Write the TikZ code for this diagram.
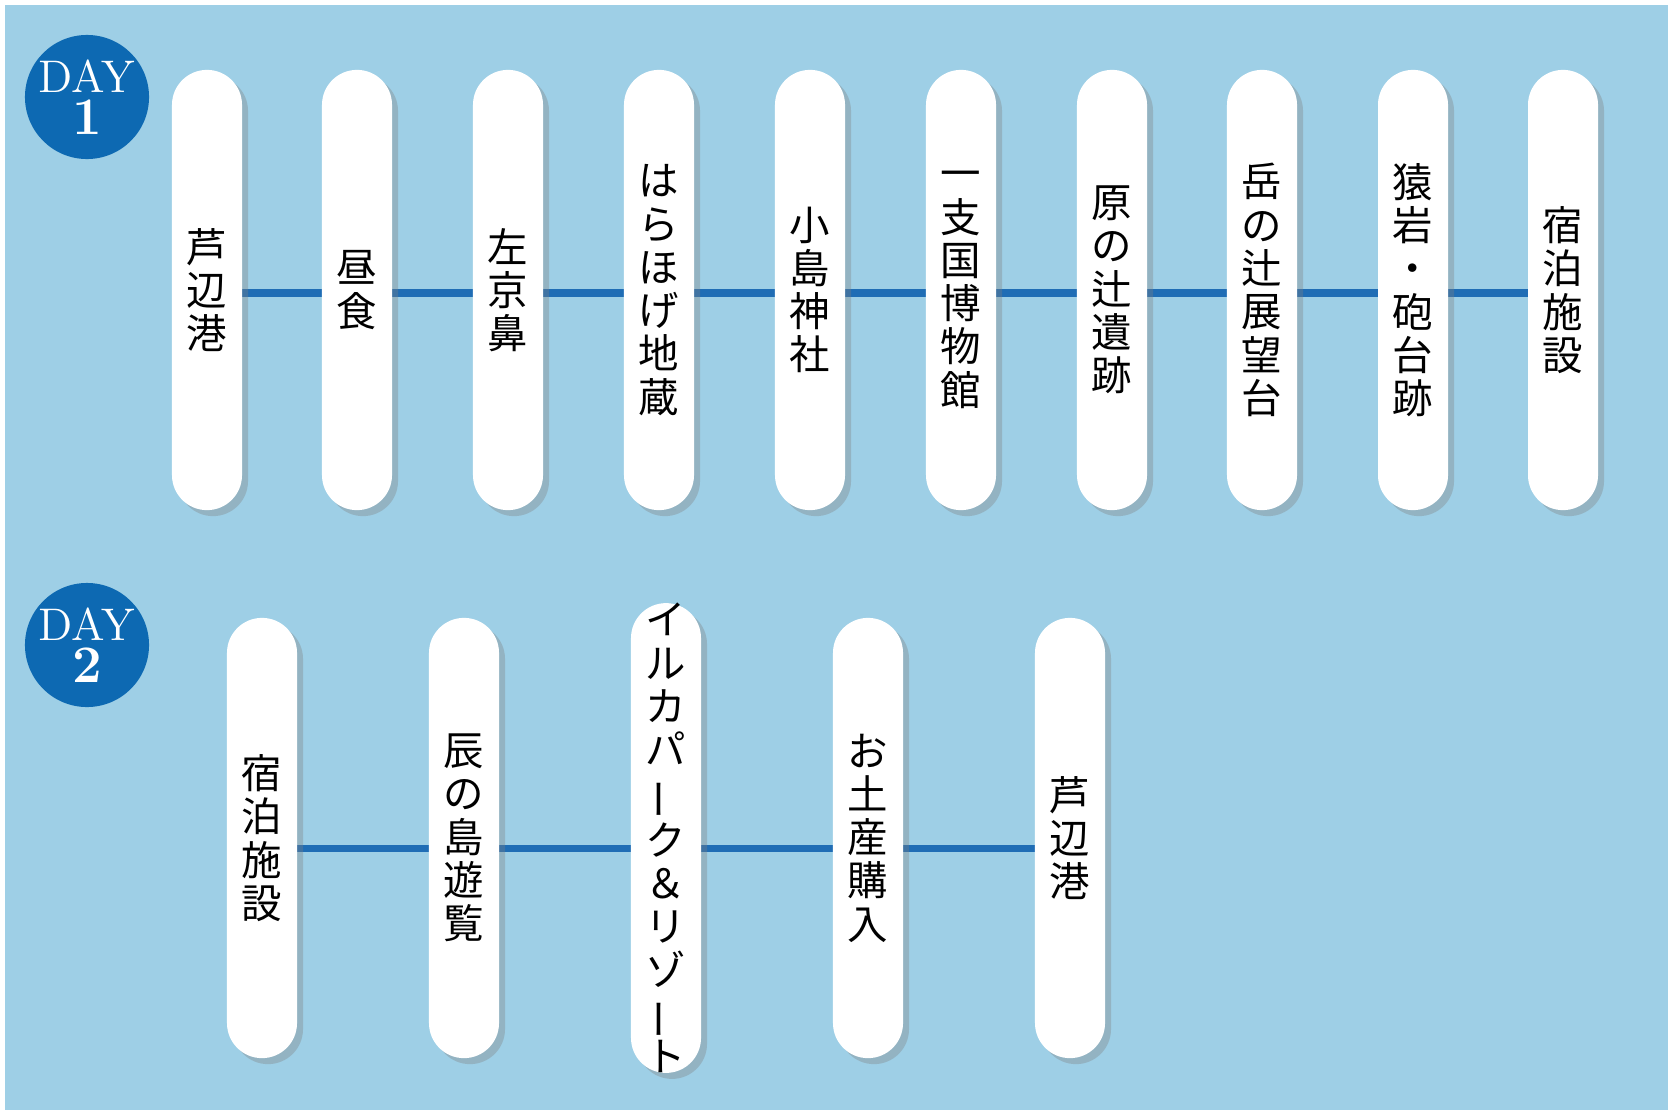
\documentclass[tikz,border=0pt]{standalone}
\usepackage{fontspec}
\newfontfamily\jpfont{Noto Sans CJK JP}
\usetikzlibrary{shadows,backgrounds}
\definecolor{skyblue}{HTML}{9ECFE6}
\definecolor{dayblue}{HTML}{0D69B2}
\definecolor{routeblue}{HTML}{1F6DB5}
\tikzset{
  pill/.style={fill=white,rounded corners=0.35cm,minimum width=0.7cm,
    minimum height=4.4cm,inner sep=0pt,align=center,font=\jpfont\fontsize{11.5}{12.3}\selectfont,
    drop shadow={shadow xshift=0.06cm,shadow yshift=-0.06cm,opacity=0.35}},
  daybadge/.style={circle,fill=dayblue,minimum size=1.24cm,inner sep=0pt,text=white,align=center},
  route/.style={routeblue,line width=2pt}
}
\newcommand{\longbar}{\rotatebox[origin=c]{90}{ー}}
\begin{document}
\begin{tikzpicture}[x=0.01cm,y=-0.01cm]
  \useasboundingbox (0,0) rectangle (1673,1115);

  % day 1
  \foreach \n/\x/\t in {a/207/{芦\\辺\\港},b/357/{昼\\食},c/508/{左\\京\\鼻},
      d/659/{は\\ら\\ほ\\げ\\地\\蔵},e/810/{小\\島\\神\\社},f/961/{一\\支\\国\\博\\物\\館},
      g/1112/{原\\の\\辻\\遺\\跡},h/1262/{岳\\の\\辻\\展\\望\\台},i/1413/{猿\\岩\\・\\砲\\台\\跡},
      j/1563/{宿\\泊\\施\\設}}
    \node[pill] (one\n) at (\x,290) {\t};

  % day 2
  \foreach \n/\x/\t in {a/262/{宿\\泊\\施\\設},b/464/{辰\\の\\島\\遊\\覧},
      c/666/{イ\\ル\\カ\\パ\\\longbar\\ク\\＆\\リ\\ゾ\\\longbar\\ト},
      d/868/{お\\土\\産\\購\\入},e/1070/{芦\\辺\\港}}
    \node[pill] (two\n) at (\x,838) {\fontsize{11.5}{11}\selectfont\t};

  \node[daybadge] (dayone) at (87,97) {\fontsize{13}{16}\selectfont DAY\\\fontsize{15}{16}\selectfont\bfseries 1};
  \node[daybadge] (daytwo) at (87,645) {\fontsize{13}{16}\selectfont DAY\\\fontsize{15}{16}\selectfont\bfseries 2};

  \begin{scope}[on background layer]
    \fill[skyblue] (0,0) rectangle (1673,1115);
    \draw[white,line width=1.5pt] (2,2) rectangle (1671,1113);
    \draw[route] ([yshift=-0.03cm]onea.center) -- ([yshift=-0.03cm]onej.center);
    \draw[route] ([yshift=-0.1cm]twoa.center) -- ([yshift=-0.1cm]twoe.center);
  \end{scope}
\end{tikzpicture}
\end{document}
